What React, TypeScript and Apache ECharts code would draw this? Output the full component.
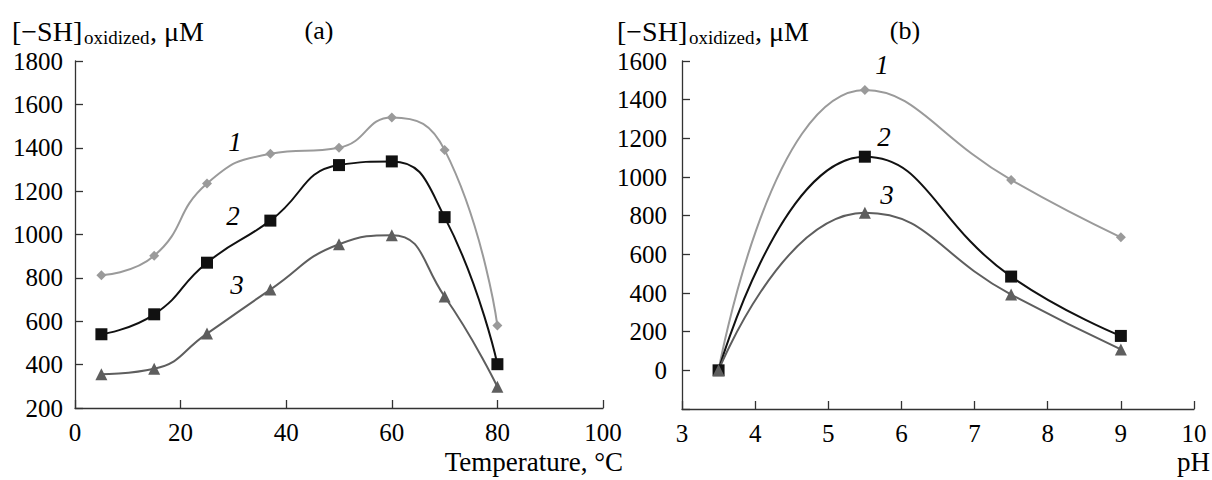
import React, { useEffect, useRef } from "react";
import * as echarts from "echarts";

const tempX = [5, 15, 25, 37, 50, 60, 70, 80];
const temp1 = [812, 902, 1235, 1372, 1400, 1540, 1390, 580];
const temp2 = [540, 632, 870, 1064, 1320, 1337, 1080, 402];
const temp3 = [356, 381, 543, 746, 955, 997, 714, 298];

const phX = [3.5, 5.5, 7.5, 9];
const ph1 = [0, 1450, 985, 688];
const ph2 = [0, 1105, 485, 178];
const ph3 = [0, 815, 392, 108];

const C1 = "#9a9a9a";
const C2 = "#111111";
const C3 = "#5e5e5e";
const AX = "#333333";
const FONT = "Liberation Serif";

const pairs = (xs: number[], ys: number[]) => xs.map((x, i) => [x, ys[i]]);

function mkSeries(idx: number, data: number[][], color: string, symbol: string, size: number) {
  return {
    type: "line",
    xAxisIndex: idx,
    yAxisIndex: idx,
    data,
    smooth: 0.5,
    symbol,
    symbolSize: size,
    lineStyle: { color, width: 2 },
    itemStyle: { color },
    z: 3,
  };
}

function xAxisCfg(idx: number, min: number, max: number, interval: number) {
  return {
    type: "value",
    gridIndex: idx,
    min,
    max,
    interval,
    axisLine: { onZero: false, lineStyle: { color: AX, width: 1.3 } },
    axisTick: { inside: true, length: 8, lineStyle: { color: AX, width: 1.3 } },
    axisLabel: { color: "#000", fontFamily: FONT, fontSize: 25, margin: 12 },
    splitLine: { show: false },
  };
}

function yAxisCfg(idx: number, min: number, max: number, hideMin: boolean, margin: number) {
  return {
    type: "value",
    gridIndex: idx,
    min,
    max,
    interval: 200,
    axisLine: { show: true, onZero: false, lineStyle: { color: AX, width: 1.3 } },
    axisTick: { show: true, inside: true, length: 8, lineStyle: { color: AX, width: 1.3 } },
    axisLabel: {
      color: "#000",
      fontFamily: FONT,
      fontSize: 25,
      margin,
      formatter: (v: number) => (hideMin && v === min ? "" : String(v)),
    },
    splitLine: { show: false },
  };
}

function txt(text: string, x: number, y: number, size: number, opts: any = {}) {
  return {
    type: "text",
    x,
    y,
    style: {
      text,
      fill: "#000",
      fontFamily: FONT,
      fontSize: size,
      fontStyle: opts.italic ? "italic" : "normal",
      textAlign: opts.align || "left",
      textVerticalAlign: "middle",
    },
  };
}

export default function App() {
  const ref = useRef<HTMLDivElement>(null);
  useEffect(() => {
    if (!ref.current) return;
    const chart = echarts.init(ref.current, undefined, { renderer: "svg" });
    chart.setOption({
      animation: false,
      backgroundColor: "#ffffff",
      textStyle: { fontFamily: FONT },
      grid: [
        { left: 75, top: 61, width: 528, height: 347 },
        { left: 682, top: 61, width: 512, height: 348 },
      ],
      xAxis: [xAxisCfg(0, 0, 100, 20), xAxisCfg(1, 3, 10, 1)],
      yAxis: [yAxisCfg(0, 200, 1800, false, 12), yAxisCfg(1, -200, 1600, true, 15)],
      series: [
        mkSeries(0, pairs(tempX, temp1), C1, "diamond", 10),
        mkSeries(0, pairs(tempX, temp2), C2, "rect", 12),
        mkSeries(0, pairs(tempX, temp3), C3, "triangle", 12),
        mkSeries(1, pairs(phX, ph1), C1, "diamond", 10),
        mkSeries(1, pairs(phX, ph2), C2, "rect", 12),
        mkSeries(1, pairs(phX, ph3), C3, "triangle", 12),
      ],
      graphic: [
        txt("[−SH]", 12, 31, 28),
        txt("oxidized", 84, 37, 19),
        txt(", μM", 150, 31, 28),
        txt("(a)", 319, 30, 26, { align: "center" }),
        txt("[−SH]", 617, 31, 28),
        txt("oxidized", 689, 37, 19),
        txt(", μM", 755, 31, 28),
        txt("(b)", 905, 30, 26, { align: "center" }),
        txt("Temperature, °C", 623, 462, 27, { align: "right" }),
        txt("pH", 1210, 462, 27, { align: "right" }),
        txt("1", 235, 142, 27, { italic: true, align: "center" }),
        txt("2", 233, 216, 27, { italic: true, align: "center" }),
        txt("3", 237, 285, 27, { italic: true, align: "center" }),
        txt("1", 882, 65, 27, { italic: true, align: "center" }),
        txt("2", 884, 137, 27, { italic: true, align: "center" }),
        txt("3", 887, 195, 27, { italic: true, align: "center" }),
      ],
    });
    return () => chart.dispose();
  }, []);
  return (
    <div
      ref={ref}
      style={{ position: "fixed", left: 0, top: 0, width: 1212, height: 480, background: "#fff" }}
    />
  );
}
